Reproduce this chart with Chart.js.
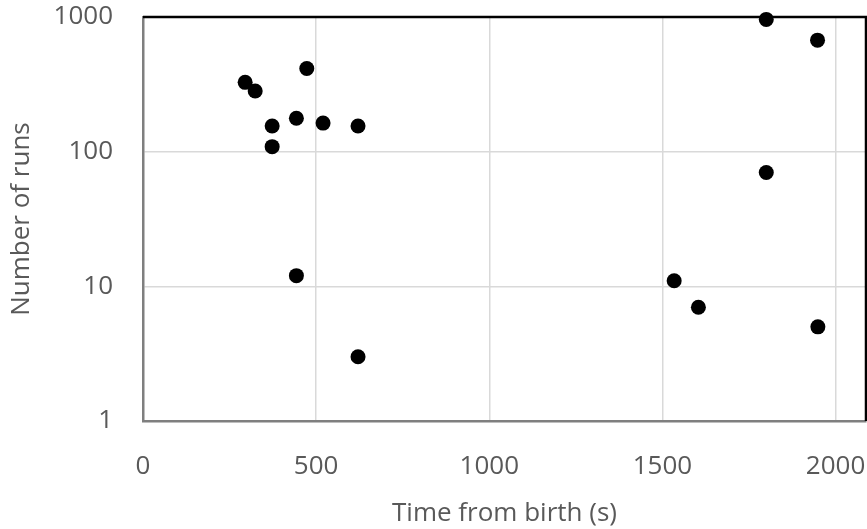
<!DOCTYPE html>
<html>
<head>
<meta charset="utf-8">
<title>Number of runs vs time from birth</title>
<script src="https://cdn.jsdelivr.net/npm/chart.js@4.4.1/dist/chart.umd.min.js"></script>
<style>
  html, body { margin: 0; padding: 0; background: #fff; }
  #wrap { width: 867px; height: 529px; }
</style>
</head>
<body>
<div id="wrap"><canvas id="runsChart" width="867" height="529"></canvas></div>
<script>
// Values
const timeFromBirth = [295, 324, 473, 373, 443, 520, 621, 373, 443, 621, 1800, 1948, 1800, 1534, 1604, 1949];
const numberOfRuns  = [327, 282, 415, 155, 177, 163, 155, 109, 12, 3, 960, 673, 70, 11, 7, 5];
const xTicks = [0, 500, 1000, 1500, 2000];
const yTicks = [1, 10, 100, 1000];

const textColor = '#595959';
const gridColor = '#d9d9d9';
const fontFamily = "'Open Sans', 'Noto Sans', sans-serif";
const fontSize = 26;

const points = timeFromBirth.map((t, i) => ({ x: t, y: numberOfRuns[i] }));

// top and right frame lines of the plot area, under the points
const frame = {
  id: 'frame',
  beforeDatasetsDraw(chart) {
    const { ctx, chartArea: a } = chart;
    ctx.save();
    ctx.strokeStyle = '#000';
    ctx.lineWidth = 2.5;
    ctx.beginPath();
    ctx.moveTo(a.left, a.top);
    ctx.lineTo(a.right, a.top);
    ctx.lineTo(a.right, a.bottom);
    ctx.stroke();
    ctx.restore();
  }
};

new Chart(document.getElementById('runsChart').getContext('2d'), {
  type: 'scatter',
  data: {
    datasets: [{
      label: 'Runs',
      data: points,
      backgroundColor: '#000',
      borderColor: '#000',
      pointRadius: 7.5,
      pointHoverRadius: 7.5,
      borderWidth: 0,
      clip: false
    }]
  },
  options: {
    responsive: false,
    animation: false,
    devicePixelRatio: 1,
    layout: { autoPadding: false, padding: { top: 17, right: 1, left: 0, bottom: 0 } },
    plugins: {
      legend: { display: false },
      tooltip: { enabled: false }
    },
    scales: {
      x: {
        type: 'linear',
        min: 0,
        max: 2088,
        afterBuildTicks: (axis) => { axis.ticks = xTicks.map(v => ({ value: v })); },
        afterFit: (axis) => {
          axis.height = 108;
          axis.paddingLeft = 0;
          axis.paddingRight = 0;
        },
        ticks: {
          includeBounds: false,
          color: textColor,
          padding: 30,
          maxRotation: 0,
          font: { family: fontFamily, size: fontSize },
          callback: (v) => String(v)
        },
        grid: { color: gridColor, lineWidth: 1.5, drawTicks: false },
        border: { display: true, color: '#7f7f7f', width: 2.5 },
        title: {
          display: true,
          text: 'Time from birth (s)',
          color: textColor,
          font: { family: fontFamily, size: fontSize },
          padding: { top: 0, bottom: 0 }
        }
      },
      y: {
        type: 'logarithmic',
        min: 1,
        max: 1000,
        afterBuildTicks: (axis) => { axis.ticks = yTicks.map(v => ({ value: v })); },
        afterFit: (axis) => {
          axis.width = 143;
          axis.paddingTop = 0;
          axis.paddingBottom = 0;
        },
        ticks: {
          color: textColor,
          padding: 30,
          font: { family: fontFamily, size: fontSize },
          callback: (v) => String(v)
        },
        grid: { color: gridColor, lineWidth: 1.5, drawTicks: false },
        border: { display: true, color: '#7f7f7f', width: 2.5 },
        title: {
          display: true,
          text: 'Number of runs',
          color: textColor,
          font: { family: fontFamily, size: fontSize },
          padding: { top: 6, bottom: 0 }
        }
      }
    }
  },
  plugins: [frame]
});
</script>
</body>
</html>
